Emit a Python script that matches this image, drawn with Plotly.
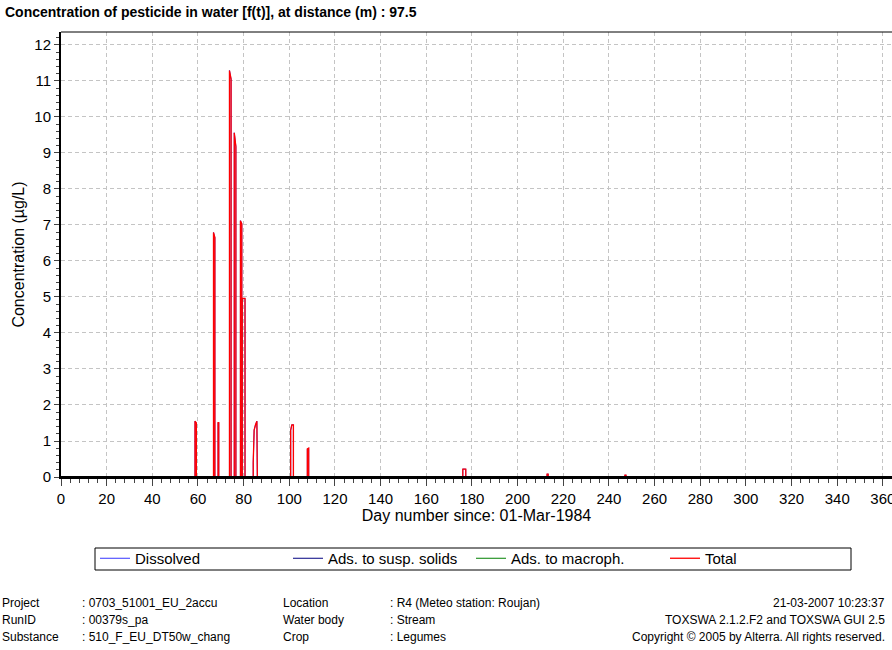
import plotly.graph_objects as go

# ---- data ----
day = [0,
       58.7, 58.7, 59.3, 59.3,
       66.8, 66.8, 67.4, 67.4,
       68.8, 68.8, 69.1, 69.1,
       73.8, 73.8, 74.5, 74.5,
       75.9, 75.9, 76.6, 76.6,
       78.6, 78.6, 79.2, 79.2,
       79.4, 79.4, 80.6, 80.6,
       84.2, 84.2, 84.6, 85.2, 85.8, 86.0,
       100.6, 100.6, 101.1, 101.8, 101.8,
       107.9, 107.9, 108.5, 108.5,
       176.0, 176.0, 177.3, 177.3,
       212.9, 212.9, 213.4, 213.4,
       247.0, 247.0, 247.5, 247.5,
       366]
total = [0,
         0, 1.55, 1.50, 0,
         0, 6.79, 6.65, 0,
         0, 1.51, 1.51, 0,
         0, 11.29, 11.05, 0,
         0, 9.56, 9.18, 0,
         0, 7.12, 7.03, 0,
         0, 4.96, 4.96, 0,
         0, 0.40, 1.30, 1.45, 1.55, 0,
         0, 1.30, 1.45, 1.45, 0,
         0, 0.78, 0.80, 0,
         0, 0.22, 0.22, 0,
         0, 0.08, 0.08, 0,
         0, 0.05, 0.05, 0,
         0]
dissolved = list(total)
ads_solids = [0 for _ in day]
ads_macroph = [0 for _ in day]

series_names = ["Dissolved", "Ads. to susp. solids", "Ads. to macroph.", "Total"]
series_values = [dissolved, ads_solids, ads_macroph, total]
series_colors = ["#0000ff", "#000080", "#008000", "#ff0000"]
series_widths = [0.8, 1.0, 1.0, 1.3]

x_ticks = list(range(0, 361, 20))
y_ticks = list(range(0, 13))

footer_left = [("Project", ": 0703_51001_EU_2accu"),
               ("RunID", ": 00379s_pa"),
               ("Substance", ": 510_F_EU_DT50w_chang")]
footer_mid = [("Location", ": R4 (Meteo station: Roujan)"),
              ("Water body", ": Stream"),
              ("Crop", ": Legumes")]
footer_right = ["21-03-2007 10:23:37",
                "TOXSWA 2.1.2.F2 and TOXSWA GUI 2.5",
                "Copyright \u00a9 2005 by Alterra. All rights reserved."]

# ---- figure ----
W, H = 892, 650
L, T, R, B = 61, 32, 0, 173
FONT = "Liberation Sans, Arial, sans-serif"

legend_ids = ["legend", "legend2", "legend3", "legend4"]
legend_px = [95, 288, 471, 665]

fig = go.Figure()
for name, vals, col, wd, lg in zip(series_names, series_values, series_colors,
                                   series_widths, legend_ids):
    fig.add_trace(go.Scatter(x=day, y=vals, mode="lines", name=name, legend=lg,
                             line=dict(color=col, width=wd)))

grid = dict(showgrid=True, gridcolor="#c4c4c4", griddash="4px,3px", gridwidth=1)
fig.update_xaxes(range=[0, 364], tickvals=x_ticks, ticks="outside", ticklen=7,
                 tickcolor="#444", showline=True, linecolor="black", linewidth=2,
                 zeroline=False, ticklabeloverflow="allow",
                 minor=dict(dtick=4, ticks="outside", ticklen=4, tickcolor="#444", showgrid=False),
                 tickfont=dict(family=FONT, size=15, color="black"),
                 title=dict(text="Day number since: 01-Mar-1984",
                            font=dict(family=FONT, size=16, color="black"), standoff=4),
                 **grid)
fig.update_yaxes(range=[0, 12.36], tickvals=y_ticks, ticks="outside", ticklen=5,
                 tickcolor="#444", showline=True, linecolor="black", linewidth=2,
                 zeroline=False,
                 minor=dict(dtick=0.2, ticks="outside", ticklen=3, tickcolor="#444", showgrid=False),
                 tickfont=dict(family=FONT, size=15, color="black"),
                 title=dict(text="Concentration (\u00b5g/L)",
                            font=dict(family=FONT, size=16, color="black"), standoff=6),
                 **grid)

def px_x(p):
    return (p - L) / (W - L - R)

def px_y(p):
    return (H - B - p) / (H - T - B)

# top frame line
fig.add_shape(type="line", xref="paper", yref="paper", x0=0, x1=1, y0=1, y1=1,
              line=dict(color="black", width=1))
# baseline drawn over the traces (series at zero are hidden under the axis)
fig.add_shape(type="line", xref="paper", yref="y", x0=0, x1=1, y0=0, y1=0,
              layer="above", line=dict(color="black", width=2))
# legend frame
fig.add_shape(type="rect", xref="paper", yref="paper",
              x0=px_x(95), x1=px_x(851), y0=px_y(548), y1=px_y(570),
              line=dict(color="black", width=1), fillcolor="rgba(0,0,0,0)")

rows_y = [603, 620, 637]
ann = []
for (lab, val), yy in zip(footer_left, rows_y):
    ann.append(dict(text=lab, x=px_x(0), y=px_y(yy)))
    ann.append(dict(text=val, x=px_x(80), y=px_y(yy)))
for (lab, val), yy in zip(footer_mid, rows_y):
    ann.append(dict(text=lab, x=px_x(281), y=px_y(yy)))
    ann.append(dict(text=val, x=px_x(388), y=px_y(yy)))
for a in ann:
    a.update(xref="paper", yref="paper", xanchor="left", yanchor="middle", showarrow=False,
             font=dict(family=FONT, size=12, color="black"))
for txt, yy in zip(footer_right, rows_y):
    ann.append(dict(text=txt, x=px_x(887), y=px_y(yy), xref="paper", yref="paper",
                    xanchor="right", yanchor="middle", showarrow=False,
                    font=dict(family=FONT, size=12, color="black")))

layout_legends = {}
for lg, xp in zip(legend_ids, legend_px):
    layout_legends[lg] = dict(orientation="h", xref="container", yref="container",
                              x=xp / W, y=1 - 542 / H, xanchor="left", yanchor="top",
                              borderwidth=0, bgcolor="rgba(0,0,0,0)",
                              itemwidth=30,
                              font=dict(family=FONT, size=15, color="black"))

fig.update_layout(
    width=W, height=H,
    margin=dict(l=L, r=R, t=T, b=B, autoexpand=False),
    paper_bgcolor="white", plot_bgcolor="white",
    title=dict(text="<b>Concentration of pesticide in water [f(t)], at distance (m) : 97.5</b>",
               x=5 / W, xref="container", xanchor="left",
               y=1 - 12 / H, yref="container", yanchor="middle",
               font=dict(family=FONT, size=14, color="black")),
    showlegend=True,
    annotations=ann,
    **layout_legends,
)

fig.write_html("out.html")
